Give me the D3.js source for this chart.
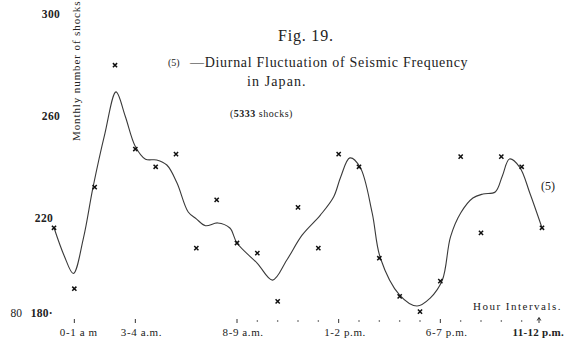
<!DOCTYPE html>
<html>
<head>
<meta charset="utf-8">
<script src="https://cdn.jsdelivr.net/npm/d3@7"></script>
<style>
  html, body { margin: 0; padding: 0; background: #fff; }
  svg { display: block; }
  text { font-family: "Liberation Serif", "DejaVu Serif", serif; fill: #222; }
</style>
</head>
<body>
<svg id="chart" width="567" height="342"></svg>
<script>
// Hourly means of earthquakes in Japan (monthly number), hour -1 repeats 11-12 p.m.
const hourIndex = [-1, 0, 1, 2, 3, 4, 5, 6, 7, 8, 9, 10, 11, 12, 13, 14, 15, 16, 17, 18, 19, 20, 21, 22, 23];
const shockCounts = [216, 192, 232, 280, 247, 240, 245, 208, 227, 210, 206, 187, 224, 208, 245, 240, 204, 189, 183, 195, 244, 214, 244, 240, 216];

// Hand-smoothed curve through the hourly values
const curveHours = [-1, -0.5, -0.05, 0.45, 0.92, 1.5, 2.05, 2.5, 3.0, 3.5, 4.05, 4.55, 5.05, 5.6, 6.0, 6.45, 7.05, 7.65, 8.0, 9.0, 9.75, 10.45, 11.2, 12.1, 12.75, 13.1, 13.55, 14.05, 14.65, 15.05, 16.0, 16.85, 17.5, 18.1, 18.5, 19.0, 19.6, 20.1, 20.7, 21.05, 21.4, 21.9, 22.4, 23.0];
const curveValues = [216, 205, 198, 212, 232, 253, 269.5, 260, 248, 243, 242.7, 240.7, 233.6, 222.2, 219.5, 216.8, 217.9, 215.9, 210, 202, 195.4, 203.3, 213.1, 221, 228.1, 236, 243.5, 239.9, 221.8, 204.1, 189.5, 185.2, 188.3, 195.4, 212.4, 221.8, 227.7, 229.3, 230.1, 236.4, 243.1, 239.9, 229.7, 216];

// Axis annotations
const yTickValues = [300, 260, 220, 180];
const labelHours = [0, 3, 8, 13, 18, 23];
const labelTexts = [["0-1", "a m"], ["3-4", "a.m."], ["8-9", "a.m."], ["1-2", "p.m."], ["6-7", "p.m."], ["11-12", "p.m."]];
const dotHours = [9, 10, 11, 12, 14, 15, 16, 17, 19, 20, 21, 22];

const svg = d3.select("#chart");

const x = d3.scaleLinear().domain([-1, 23]).range([54, 542]);
const y = d3.scaleLinear().domain([180, 300]).range([319.2, 14.4]);

// Smoothed curve
const line = d3.line()
  .x(d => x(d[0]))
  .y(d => y(d[1]))
  .curve(d3.curveCatmullRom.alpha(0.5));

svg.append("path")
  .datum(curveHours.map((h, i) => [h, curveValues[i]]))
  .attr("d", line)
  .attr("fill", "none")
  .attr("stroke", "#3a3a3a")
  .attr("stroke-width", 1.1);

// Hourly observations as small crosses
const s = 2.1;
svg.append("g").selectAll("path")
  .data(hourIndex.map((h, i) => [h, shockCounts[i]]))
  .join("path")
  .attr("d", d => {
    const cx = x(d[0]), cy = y(d[1]);
    return `M${cx - s},${cy - s}L${cx + s},${cy + s}M${cx - s},${cy + s}L${cx + s},${cy - s}`;
  })
  .attr("stroke", "#111")
  .attr("stroke-width", 1.5)
  .attr("fill", "none");

// Vertical value labels
const yLab = svg.append("g");
yTickValues.forEach(v => {
  const upper = v >= 260;
  yLab.append("text")
    .attr("x", upper ? 60 : 53)
    .attr("y", v === 180 ? y(v) - 6 : y(v))
    .attr("dy", "0.35em")
    .attr("text-anchor", "end")
    .attr("font-size", 11.5)
    .attr("font-weight", "bold")
    .attr("letter-spacing", 0.3)
    .text(v === 180 ? v + "·" : v);
});
svg.append("text")
  .attr("x", 22).attr("y", y(180) - 6).attr("dy", "0.35em")
  .attr("text-anchor", "end").attr("font-size", 11.5)
  .text("80");

// Axis title, reading upward
svg.append("text")
  .attr("transform", `translate(80,141) rotate(-90)`)
  .attr("font-size", 11)
  .attr("letter-spacing", 0.9)
  .attr("fill", "#333")
  .text("Monthly number of shocks");

// Hour row: ticks, dots and labels
const hourRowY = 322;
const axisG = svg.append("g");
labelHours.forEach((h, i) => {
  const last = h === 23;
  const tx = x(h) - (last ? 3 : 0);
  axisG.append("line")
    .attr("x1", tx).attr("x2", tx)
    .attr("y1", hourRowY - 3).attr("y2", hourRowY + 1)
    .attr("stroke", "#333").attr("stroke-width", 1);
  if (last) {
    axisG.append("path")
      .attr("d", `M${tx - 1.8},${hourRowY - 1.5}L${tx},${hourRowY - 4.5}L${tx + 1.8},${hourRowY - 1.5}`)
      .attr("fill", "none").attr("stroke", "#222").attr("stroke-width", 1);
  }
  const t = axisG.append("text")
    .attr("y", hourRowY + 10)
    .attr("dy", "0.35em")
    .attr("font-size", 11)
    .attr("font-weight", last ? "bold" : "normal")
    .attr("letter-spacing", last ? 0.3 : 0.6);
  const head = t.append("tspan").text(labelTexts[i][0]);
  t.append("tspan").text(" " + labelTexts[i][1]);
  const headLen = head.node().getComputedTextLength();
  t.attr("x", tx - headLen + (last ? 0 : 2));
});
axisG.selectAll("circle")
  .data(dotHours)
  .join("circle")
  .attr("cx", d => x(d))
  .attr("cy", hourRowY - 1)
  .attr("r", 0.8)
  .attr("fill", "#444");

svg.append("text")
  .attr("x", 473).attr("y", 306).attr("dy", "0.35em")
  .attr("font-size", 11)
  .attr("letter-spacing", 1.5)
  .text("Hour Intervals.");

// Titles
svg.append("text")
  .attr("x", 278).attr("y", 35).attr("dy", "0.35em")
  .attr("font-size", 16)
  .attr("letter-spacing", 0.8)
  .text("Fig. 19.");

svg.append("text")
  .attr("x", 168).attr("y", 62).attr("dy", "0.35em")
  .attr("font-size", 10)
  .attr("fill", "#777")
  .text("(5)");

svg.append("text")
  .attr("x", 190).attr("y", 62).attr("dy", "0.35em")
  .attr("font-size", 14)
  .attr("letter-spacing", 0.7)
  .text("—Diurnal  Fluctuation of Seismic Frequency");

svg.append("text")
  .attr("x", 247).attr("y", 81).attr("dy", "0.35em")
  .attr("font-size", 14)
  .attr("letter-spacing", 1.1)
  .text("in Japan.");

const shocks = svg.append("text")
  .attr("x", 230).attr("y", 113).attr("dy", "0.35em")
  .attr("font-size", 10)
  .attr("letter-spacing", 0.5);
shocks.append("tspan").text("(");
shocks.append("tspan").attr("font-weight", "bold").text("5333");
shocks.append("tspan").text("  shocks)");

svg.append("text")
  .attr("x", 541).attr("y", 186).attr("dy", "0.35em")
  .attr("font-size", 12)
  .text("(5)");
</script>
</body>
</html>
